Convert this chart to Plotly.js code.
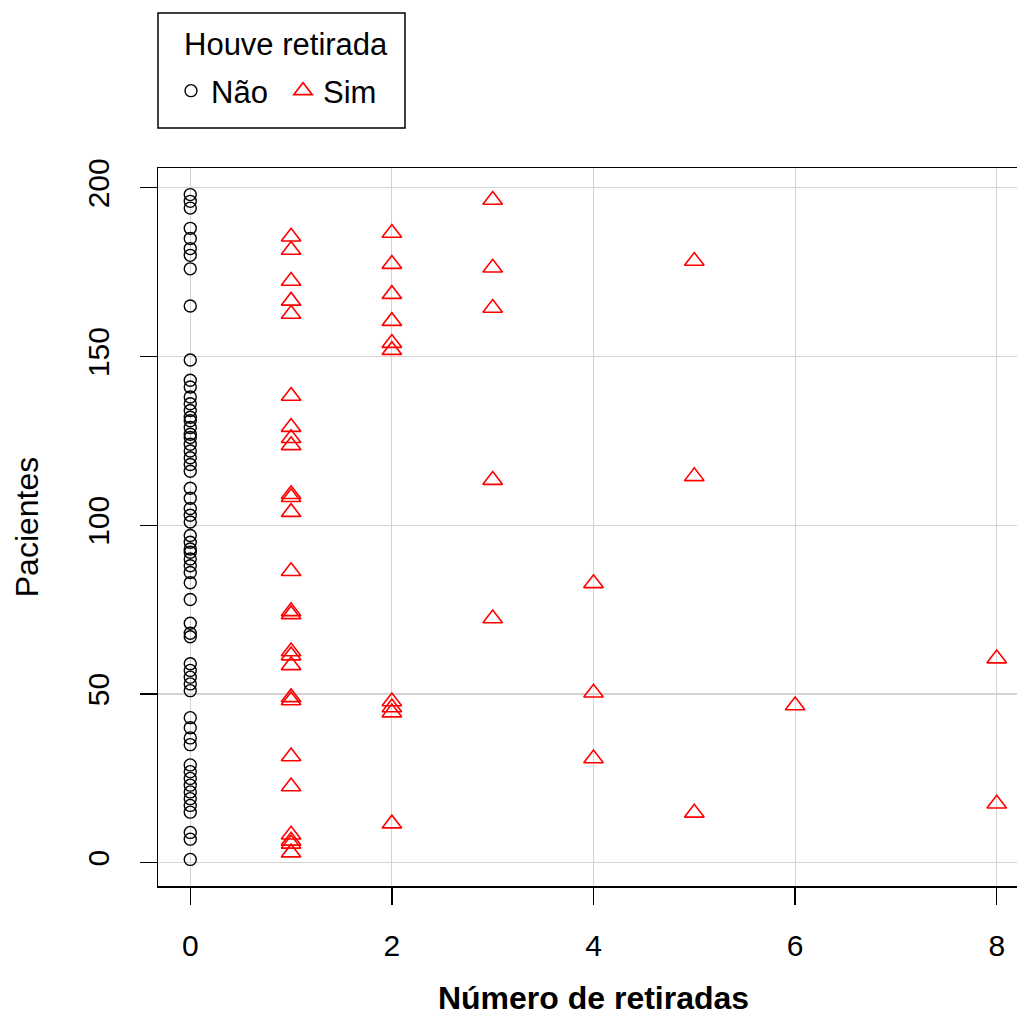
<!DOCTYPE html>
<html>
<head>
<meta charset="utf-8">
<script src="https://cdn.plot.ly/plotly-3.0.1.min.js"></script>
<style>html,body{margin:0;padding:0;background:#fff;overflow:hidden;}#chart{width:1029px;height:1016px;}</style>
</head>
<body>
<div id="chart"></div>
<script>
// Pacientes sem retirada (x = 0)
const naoY = [198, 196, 194, 188, 185, 182, 180, 176, 165, 149, 143, 141, 138, 136, 134, 132, 131, 129, 127, 126, 124, 122, 120, 118, 116, 111, 108, 105, 103, 101, 97, 95, 93, 92, 90, 88, 86, 83, 78, 71, 68, 67, 59, 57, 55, 53, 51, 43, 40, 37, 35, 29, 27, 25, 23, 21, 19, 17, 15, 9, 7, 1];
const naoX = naoY.map(() => 0);

// Pacientes com retirada
const simX = [1,1,1,1,1,1,1,1,1,1,1,1,1,1,1,1,1,1,1,1,1,1,1,1,1,1,
              2,2,2,2,2,2,2,2,2,2,
              3,3,3,3,3,
              4,4,4,
              5,5,5,
              6,
              8,8];
const simY = [185.5,181.6,172.4,166.5,162.6,138.3,129.1,125.8,123.7,109.2,108.3,103.9,86.4,74.5,73.6,62.6,61.4,58.5,49,48.1,31.5,22.6,8.3,6.5,5.6,3,
              186.6,177.4,168.5,160.5,154,151.9,47.8,46,44.5,11.6,
              196.4,176.3,164.4,113.4,72.4,
              82.8,50.4,30.9,
              178.3,114.5,14.8,
              46.6,
              60.5,17.5];

const xTicks = [0, 2, 4, 6, 8];
const yTicks = [0, 50, 100, 150, 200];
const legendTitle = 'Houve retirada';

const font = "Liberation Sans, Arial, sans-serif";
const fsTick = 30, fsTitle = 32, fsLeg = 31;

// plot area in pixels (the right part of the frame lies beyond the 1017 px window, as in the reference)
const W = 1029, H = 1016, L = 158, T = 168, B = 130;
const pw = W - L, ph = H - T - B;
const px = v => (v - L) / pw, py = v => (H - B - v) / ph;

const traces = [
  {x: naoX, y: naoY, type: 'scatter', mode: 'markers', name: 'Não',
   marker: {symbol: 'circle-open', size: 12, color: '#000', line: {width: 1.4, color: '#000'}}},
  {x: simX, y: simY, type: 'scatter', mode: 'markers', name: 'Sim',
   marker: {symbol: 'triangle-up-open', size: 17, color: '#ff0000', line: {width: 1.6, color: '#ff0000'}}}
];

const axisCommon = {
  showgrid: true, gridcolor: '#d3d3d3', gridwidth: 1.2,
  zeroline: false, showline: true, linecolor: '#000', linewidth: 1.5,
  ticks: 'outside', ticklen: 17, tickwidth: 1.3, tickcolor: '#000',
  tickfont: {family: font, size: fsTick, color: '#000'}
};

const layout = {
  width: W, height: H,
  margin: {l: L, r: 0, t: T, b: B},
  paper_bgcolor: '#fff', plot_bgcolor: '#fff',
  font: {family: font, color: '#000'},
  xaxis: Object.assign({}, axisCommon, {
    range: [-0.32, 8.32], tickmode: 'array', tickvals: xTicks,
    ticktext: xTicks.map(String), mirror: true, ticklabelstandoff: 15,
    title: {text: '<b>Número de retiradas</b>', font: {family: font, size: fsTitle, color: '#000'}, standoff: 26}
  }),
  yaxis: Object.assign({}, axisCommon, {
    range: [-6.88, 205.88], tickmode: 'array', tickvals: yTicks,
    ticktext: yTicks.map(String), tickangle: -90, ticklabelstandoff: 19,
    title: {text: 'Pacientes', font: {family: font, size: fsTitle, color: '#000'}, standoff: 33}
  }),
  showlegend: true,
  legend: {
    orientation: 'h', x: px(171), xanchor: 'left', y: py(91), yanchor: 'middle',
    xref: 'paper', yref: 'paper',
    bgcolor: 'rgba(0,0,0,0)', borderwidth: 0,
    font: {family: font, size: fsLeg, color: '#000'},
    itemsizing: 'trace', entrywidth: 67, entrywidthmode: 'pixels'
  },
  shapes: [{
    type: 'rect', xref: 'paper', yref: 'paper',
    x0: px(158), x1: px(405), y0: py(128), y1: py(13),
    line: {color: '#000', width: 1.5}, fillcolor: 'rgba(0,0,0,0)'
  }],
  annotations: [{
    text: legendTitle, xref: 'paper', yref: 'paper',
    x: px(286), y: py(45), xanchor: 'center', yanchor: 'middle',
    showarrow: false, font: {family: font, size: fsLeg, color: '#000'}
  }]
};

Plotly.newPlot('chart', traces, layout, {displayModeBar: false, staticPlot: true});
</script>
</body>
</html>
